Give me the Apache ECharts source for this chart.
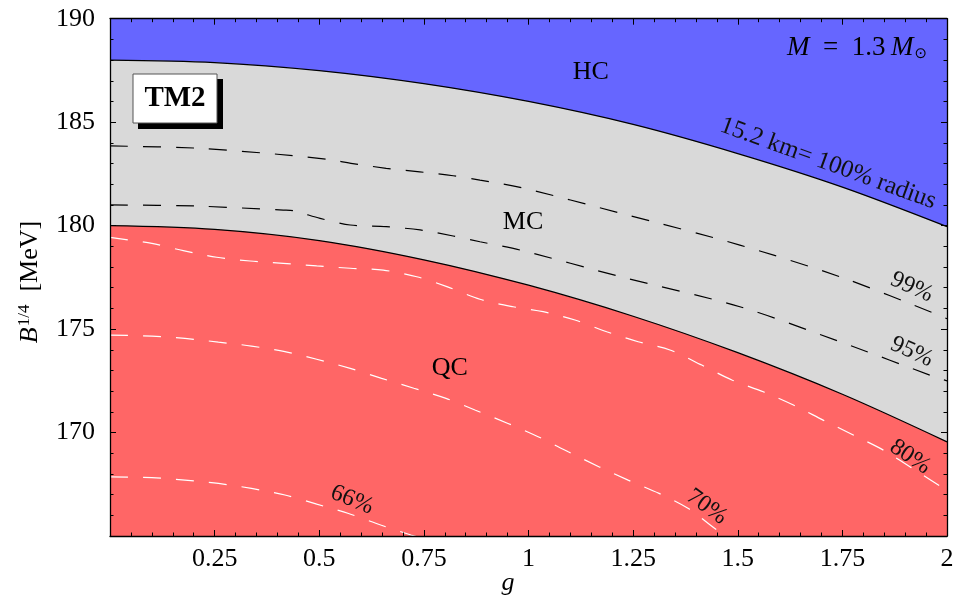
<!DOCTYPE html>
<html><head><meta charset="utf-8">
<script src="https://cdn.jsdelivr.net/npm/echarts@6/dist/echarts.min.js"></script>
<style>html,body{margin:0;padding:0;background:#fff}#c{width:958px;height:610px}</style>
</head><body><div id="c"></div>
<script>
// ---- data ----
// HC / MC boundary (15.2 km = 100% radius)
const hcG = [0, 0.25, 0.5, 0.75, 1.0, 1.25, 1.5, 1.75, 2];
const hcB = [188.0, 187.88, 187.49, 186.86, 186.0, 184.89, 183.48, 181.86, 179.95];
// MC / QC boundary
const qcG = [0, 0.25, 0.5, 0.75, 1.0, 1.25, 1.5, 1.75, 2];
const qcB = [180.0, 179.82, 179.28, 178.35, 177.12, 175.62, 173.86, 171.85, 169.55];
// contour 99 %
const c99G = [0, 0.2, 0.4, 0.52, 0.58, 0.66, 0.74, 0.82, 0.884, 0.98, 1.22, 1.505, 1.744, 1.98, 2];
const c99B = [183.85, 183.75, 183.45, 183.2, 183.0, 182.77, 182.6, 182.41, 182.2, 181.85, 180.6, 179.06, 177.53, 175.68, 175.5];
// contour 95 %
const c95G = [0, 0.2, 0.414, 0.438, 0.502, 0.574, 0.66, 0.741, 0.82, 0.884, 0.98, 1.22, 1.505, 1.744, 1.98, 2];
const c95B = [181.0, 180.95, 180.75, 180.72, 180.35, 180.03, 179.95, 179.79, 179.5, 179.22, 178.82, 177.53, 176.08, 174.39, 172.62, 172.5];
// contour 80 %
const c80G = [0, 0.1, 0.175, 0.255, 0.335, 0.414, 0.494, 0.574, 0.653, 0.733, 0.805, 0.884, 0.963, 1.035, 1.111, 1.187, 1.262, 1.338, 1.414, 1.486, 1.561, 1.633, 1.704, 1.776, 1.848, 1.924, 2];
const c80B = [179.43, 179.14, 178.79, 178.47, 178.29, 178.18, 178.05, 177.94, 177.85, 177.53, 177.05, 176.44, 176.08, 175.84, 175.44, 174.87, 174.39, 173.99, 173.26, 172.54, 171.97, 171.33, 170.6, 169.88, 169.15, 168.18, 167.2];
// contour 70 %
const c70G = [0, 0.1, 0.179, 0.259, 0.338, 0.418, 0.494, 0.574, 0.649, 0.726, 0.803, 0.872, 0.951, 1.023, 1.095, 1.168, 1.238, 1.312, 1.381, 1.45, 1.49];
const c70B = [174.71, 174.66, 174.55, 174.37, 174.18, 173.91, 173.54, 173.1, 172.62, 172.14, 171.65, 171.09, 170.44, 169.8, 169.07, 168.35, 167.7, 167.06, 166.34, 165.29, 164.8];
// contour 66 %
const c66G = [0, 0.1, 0.179, 0.259, 0.338, 0.418, 0.494, 0.57, 0.647, 0.719, 0.76];
const c66B = [167.86, 167.82, 167.7, 167.54, 167.3, 166.98, 166.54, 166.09, 165.53, 165.05, 164.8];
// axis ticks
const xTicks = [0, 0.25, 0.5, 0.75, 1, 1.25, 1.5, 1.75, 2];
const yTicks = [165, 170, 175, 180, 185, 190];

// ---- annotations (anchored in data coordinates) ----
const regionText = [
  {t: 'HC', g: 1.149, b: 187.42},
  {t: 'MC', g: 0.987, b: 180.17},
  {t: 'QC', g: 0.812, b: 173.12}
];
const curveText = [
  {t: '15.2 km= 100% radius', g: 1.716, b: 183.0, a: 20, s: 25},
  {t: '99%', g: 1.916, b: 177.02, a: 24, s: 24},
  {t: '95%', g: 1.916, b: 173.9, a: 24, s: 24},
  {t: '80%', g: 1.912, b: 168.82, a: 34, s: 24},
  {t: '70%', g: 1.426, b: 166.41, a: 36, s: 24},
  {t: '66%', g: 0.578, b: 166.74, a: 22, s: 24}
];

const pair = (xs, ys) => xs.map((x, i) => [x, ys[i]]);
const FONT = '"Liberation Serif", "DejaVu Serif", serif';

const chart = echarts.init(document.getElementById('c'), null, {renderer: 'canvas'});

function axisCommon(extra) {
  return Object.assign({
    type: 'value', z: 10,
    axisLine: {show: true, onZero: false, lineStyle: {color: '#000', width: 1.3}},
    axisTick: {show: true, inside: true, length: 6, lineStyle: {color: '#000', width: 1}},
    minorTick: {show: true, splitNumber: 5, length: 3.5, lineStyle: {color: '#000', width: 1}},
    splitLine: {show: false},
    minorSplitLine: {show: false}
  }, extra);
}

const lineBase = {type: 'line', symbol: 'none', showSymbol: false, clip: true, silent: true, animation: false};

chart.setOption({
  animation: false,
  backgroundColor: '#fff',
  grid: {left: 110, right: 11, top: 18.7, bottom: 74, show: true, backgroundColor: '#6666ff', borderWidth: 0},
  xAxis: [
    axisCommon({min: xTicks[0], max: xTicks[xTicks.length - 1], interval: 0.25, position: 'bottom',
      axisLabel: {show: true, showMinLabel: false, margin: 10, color: '#000', fontFamily: FONT, fontSize: 26}}),
    axisCommon({min: xTicks[0], max: xTicks[xTicks.length - 1], interval: 0.25, position: 'top',
      axisLabel: {show: false}})
  ],
  yAxis: [
    axisCommon({min: yTicks[0], max: yTicks[yTicks.length - 1], interval: 5, position: 'left',
      axisLabel: {show: true, showMinLabel: false, margin: 15, color: '#000', fontFamily: FONT, fontSize: 26}}),
    axisCommon({min: yTicks[0], max: yTicks[yTicks.length - 1], interval: 5, position: 'right',
      axisLabel: {show: false}})
  ],
  series: [
    Object.assign({}, lineBase, {name: 'HC boundary', data: pair(hcG, hcB), smooth: 0.33, z: 2,
      lineStyle: {color: '#000', width: 1.3}, areaStyle: {color: '#d9d9d9', opacity: 1, origin: 'start'}}),
    Object.assign({}, lineBase, {name: 'QC boundary', data: pair(qcG, qcB), smooth: 0.33, z: 3,
      lineStyle: {color: '#000', width: 1.3}, areaStyle: {color: '#ff6666', opacity: 1, origin: 'start'}}),
    Object.assign({}, lineBase, {name: '99%', data: pair(c99G, c99B), smooth: 0.3, z: 4,
      lineStyle: {color: '#000', width: 1.2, type: [18, 15]}}),
    Object.assign({}, lineBase, {name: '95%', data: pair(c95G, c95B), smooth: 0.3, z: 4,
      lineStyle: {color: '#000', width: 1.2, type: [18, 15]}}),
    Object.assign({}, lineBase, {name: '80%', data: pair(c80G, c80B), smooth: 0.3, z: 4,
      lineStyle: {color: '#fff', width: 1.2, type: [18, 15]}}),
    Object.assign({}, lineBase, {name: '70%', data: pair(c70G, c70B), smooth: 0.3, z: 4,
      lineStyle: {color: '#fff', width: 1.2, type: [18, 15]}}),
    Object.assign({}, lineBase, {name: '66%', data: pair(c66G, c66B), smooth: 0.3, z: 4,
      lineStyle: {color: '#fff', width: 1.2, type: [18, 15]}})
  ]
});

const graphics = [];
regionText.forEach(r => {
  const p = chart.convertToPixel({gridIndex: 0}, [r.g, r.b]);
  graphics.push({type: 'text', x: p[0], y: p[1], z: 20,
    style: {text: r.t, font: '26px ' + FONT, fill: '#000', align: 'center', verticalAlign: 'middle'}});
});
curveText.forEach(r => {
  const p = chart.convertToPixel({gridIndex: 0}, [r.g, r.b]);
  graphics.push({type: 'text', x: p[0], y: p[1], rotation: -r.a * Math.PI / 180, z: 20,
    style: {text: r.t, font: r.s + 'px ' + FONT, fill: '#111', align: 'center', verticalAlign: 'middle'}});
});
// mass annotation
graphics.push({type: 'text', x: 927, y: 48, z: 20,
  style: {text: '{i|M}\u2002=\u20021.3\u2009{i|M}{s|⊙}', align: 'right', verticalAlign: 'middle',
    font: '27px ' + FONT, fill: '#000',
    rich: {i: {fontStyle: 'italic', fontFamily: FONT, fontSize: 27},
           s: {fontFamily: '"DejaVu Sans", sans-serif', fontSize: 15, verticalAlign: 'bottom', padding: [10, 0, 0, 1]}}}});
// TM2 box
graphics.push({type: 'rect', z: 20, shape: {x: 138, y: 79, width: 85, height: 50}, style: {fill: '#000'}});
graphics.push({type: 'rect', z: 21, shape: {x: 133, y: 74, width: 84, height: 49}, style: {fill: '#fff', stroke: '#555', lineWidth: 1}});
graphics.push({type: 'text', z: 22, x: 175, y: 99,
  style: {text: 'TM2', font: 'bold 29px ' + FONT, fill: '#000', align: 'center', verticalAlign: 'middle'}});
// axis titles
graphics.push({type: 'text', z: 20, x: 30, y: 282, rotation: Math.PI / 2,
  style: {text: '{i|B}{s|1/4}  [MeV]', align: 'center', verticalAlign: 'middle',
    font: '26px ' + FONT, fill: '#000',
    rich: {i: {fontStyle: 'italic', fontFamily: FONT, fontSize: 26},
           s: {fontFamily: FONT, fontSize: 17, verticalAlign: 'top', padding: [0, 0, 10, 1]}}}});
graphics.push({type: 'text', z: 20, x: 508, y: 583,
  style: {text: 'g', font: 'italic 26px ' + FONT, fill: '#000', align: 'center', verticalAlign: 'middle'}});

chart.setOption({graphic: graphics});
</script>
</body></html>
